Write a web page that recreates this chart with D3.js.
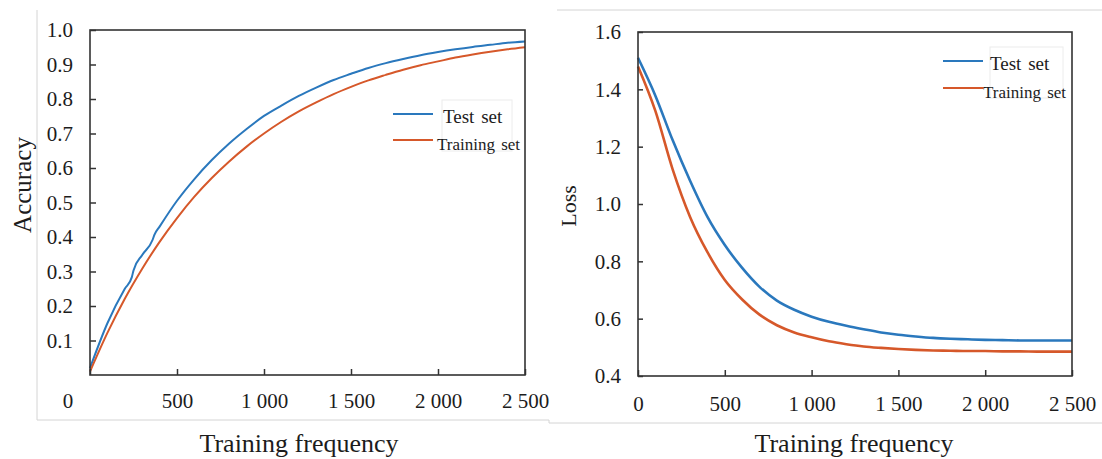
<!DOCTYPE html>
<html>
<head>
<meta charset="utf-8">
<script src="https://cdn.jsdelivr.net/npm/d3@7"></script>
<style>
  body { margin: 0; background: #fff; }
  text { font-family: "Liberation Serif", "Times New Roman", serif; fill: #1c1c1c; }
</style>
</head>
<body>
<script>
// training steps shared by most series
var steps = [0, 100, 200, 300, 400, 500, 600, 700, 800, 900, 1000, 1100, 1200,
             1300, 1400, 1500, 1600, 1700, 1800, 1900, 2000, 2100, 2200, 2300, 2400, 2500];

// test accuracy has two small jumps, so it keeps its own steps
var accTestSteps = [0, 100, 200, 240, 250, 300, 360, 370, 400, 500, 600, 700, 800, 900, 1000,
                    1100, 1200, 1300, 1400, 1500, 1600, 1700, 1800, 1900, 2000, 2100, 2200, 2300, 2400, 2500];
var accTest = [0.02, 0.15, 0.25, 0.283, 0.303, 0.348, 0.392, 0.406, 0.43, 0.505, 0.568, 0.623, 0.671, 0.713, 0.751,
               0.781, 0.809, 0.833, 0.855, 0.873, 0.890, 0.904, 0.916, 0.927, 0.936, 0.944, 0.951, 0.957, 0.963, 0.967];
var accTrain = [0.01, 0.122, 0.221, 0.308, 0.386, 0.455, 0.517, 0.571, 0.619, 0.662, 0.700, 0.734, 0.764,
                0.790, 0.814, 0.835, 0.854, 0.870, 0.885, 0.898, 0.909, 0.920, 0.929, 0.937, 0.944, 0.950];

var lossTest = [1.51, 1.378, 1.222, 1.081, 0.955, 0.857, 0.777, 0.711, 0.663, 0.631, 0.607, 0.589, 0.575,
                0.563, 0.552, 0.544, 0.538, 0.533, 0.530, 0.528, 0.526, 0.525, 0.524, 0.524, 0.524, 0.524];
var lossTrain = [1.48, 1.325, 1.12, 0.955, 0.832, 0.735, 0.667, 0.614, 0.577, 0.552, 0.535, 0.521, 0.511,
                 0.503, 0.498, 0.494, 0.491, 0.489, 0.488, 0.487, 0.487, 0.486, 0.486, 0.485, 0.485, 0.485];

var xTicks = [0, 500, 1000, 1500, 2000, 2500];
var accTicks = [0.1, 0.2, 0.3, 0.4, 0.5, 0.6, 0.7, 0.8, 0.9, 1.0];
var lossTicks = [0.4, 0.6, 0.8, 1.0, 1.2, 1.4, 1.6];
var seriesNames = ["Test set", "Training set"];
var colors = ["#2a78bd", "#d6582a"];

var locale = d3.formatLocale({decimal: ".", thousands: " ", grouping: [3], currency: ["", ""]});
var fmtX = locale.format(",");

var svg = d3.select("body").append("svg").attr("width", 1102).attr("height", 459);

// light frames left over from the original figure crops
var frame = "#d4d4d4";
svg.append("path").attr("d", "M37,10V420H549V423H1102").attr("fill", "none").attr("stroke", frame);
svg.append("path").attr("d", "M557,10H1102").attr("fill", "none").attr("stroke", frame);

function drawPanel(p) {
    var x = d3.scaleLinear().domain([0, 2500]).range([p.left, p.right]),
        y = d3.scaleLinear().domain(p.yDomain).range([p.bottom, p.top]);

    var g = svg.append("g");

    var line = d3.line()
        .curve(d3.curveMonotoneX)
        .x(function(d) { return x(d[0]); })
        .y(function(d) { return y(d[1]); });

    p.series.forEach(function(s, i) {
        g.append("path")
            .datum(d3.zip(s.steps, s.values))
            .attr("d", line)
            .attr("fill", "none")
            .attr("stroke", colors[i])
            .attr("stroke-width", p.lineWidth);
    });

    var xAxis = g.append("g")
        .attr("transform", "translate(0," + p.bottom + ")")
        .call(d3.axisBottom(x).tickValues(xTicks).tickSizeInner(-6).tickSizeOuter(0)
            .tickPadding(p.xPad).tickFormat(function(d) { return (d === 0 && p.hideZero) ? "" : fmtX(d); }));

    var yAxis = g.append("g")
        .attr("transform", "translate(" + p.left + ",0)")
        .call(d3.axisLeft(y).tickValues(p.yTicks).tickSizeInner(-p.yTick).tickSizeOuter(0)
            .tickPadding(17).tickFormat(d3.format(".1f")));

    [xAxis, yAxis].forEach(function(a) {
        a.select(".domain").remove();
        a.selectAll("line").attr("stroke", "#333").attr("stroke-width", 1.5);
        a.selectAll("text").style("font-size", "21px").attr("fill", "#1c1c1c");
    });

    // the "0" of the accuracy panel sits left of the axis
    if (p.hideZero) {
        g.append("text")
            .attr("x", x(0) - 22)
            .attr("y", p.bottom + p.xPad)
            .attr("dy", "0.71em")
            .attr("text-anchor", "middle")
            .style("font-size", "21px")
            .text("0");
    }

    g.append("rect")
        .attr("x", p.left).attr("y", p.top)
        .attr("width", p.right - p.left).attr("height", p.bottom - p.top)
        .attr("fill", "none").attr("stroke", "#333").attr("stroke-width", 1.6);

    g.append("text")
        .attr("transform", "translate(" + p.yLabelX + "," + p.yLabelY + ") rotate(-90)")
        .attr("text-anchor", "middle")
        .style("font-size", p.yLabelSize)
        .text(p.yLabel);

    g.append("text")
        .attr("x", p.titleX).attr("y", 452)
        .attr("text-anchor", "middle")
        .style("font-size", "26px")
        .text("Training frequency");

    // legend
    var lg = g.append("g").attr("transform", "translate(" + p.legX + "," + p.legY + ")");
    lg.append("rect")
        .attr("x", p.boxX).attr("y", -14).attr("width", p.boxW).attr("height", 51)
        .attr("fill", "none").attr("stroke", "#ececec");
    seriesNames.forEach(function(name, i) {
        var yy = i * p.legGap;
        lg.append("line")
            .attr("x1", 0).attr("x2", 40).attr("y1", yy).attr("y2", yy)
            .attr("stroke", colors[i]).attr("stroke-width", 2);
        lg.append("text")
            .attr("x", i === 0 ? p.legTx0 : p.legTx1)
            .attr("y", yy + (i === 0 ? 3 : 5))
            .attr("dy", "0.32em")
            .style("font-size", i === 0 ? "19px" : "17px")
            .style("word-spacing", "2px")
            .text(name);
    });
}

drawPanel({
    left: 90, right: 525, top: 30, bottom: 375,
    yDomain: [0, 1], yTicks: accTicks, yTick: 6, xPad: 18, hideZero: true,
    lineWidth: 2,
    series: [{steps: accTestSteps, values: accTest}, {steps: steps, values: accTrain}],
    yLabel: "Accuracy", yLabelX: 31, yLabelY: 185, yLabelSize: "25px",
    titleX: 299,
    legX: 393, legY: 114, legGap: 26, legTx0: 50, legTx1: 44, boxX: 49, boxW: 70
});

drawPanel({
    left: 638, right: 1072, top: 32, bottom: 376,
    yDomain: [0.4, 1.6], yTicks: lossTicks, yTick: 5, xPad: 20, hideZero: false,
    lineWidth: 2.6,
    series: [{steps: steps, values: lossTest}, {steps: steps, values: lossTrain}],
    yLabel: "Loss", yLabelX: 576, yLabelY: 206, yLabelSize: "22px",
    titleX: 854,
    legX: 943, legY: 61, legGap: 27, legTx0: 47, legTx1: 40, boxX: 47, boxW: 73
});
</script>
</body>
</html>
